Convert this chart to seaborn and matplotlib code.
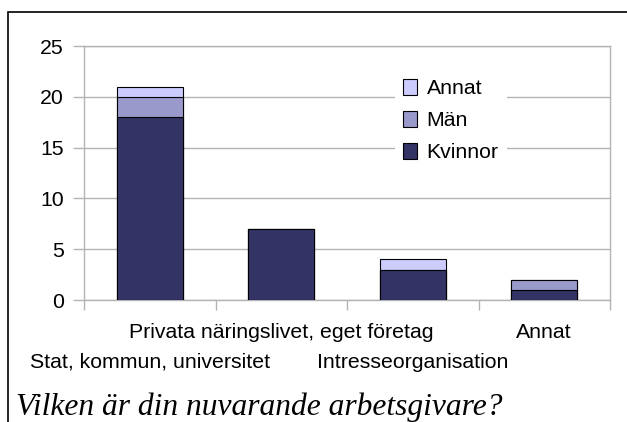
import numpy as np
import pandas as pd
import matplotlib.pyplot as plt
import seaborn as sns
from matplotlib.patches import Patch, Rectangle

# -----------------------------
# data
# -----------------------------
categories = ["Stat, kommun, universitet",
              "Privata näringslivet, eget företag",
              "Intresseorganisation",
              "Annat"]
kvinnor = [18, 7, 3, 1]
man = [2, 0, 0, 1]
annat = [1, 0, 1, 0]
series_names = ["Kvinnor", "Män", "Annat"]
series_colors = ["#333366", "#9999cc", "#ccccff"]
title = "Vilken är din nuvarande arbetsgivare?"

df = pd.DataFrame({"kategori": categories,
                   "Kvinnor": kvinnor, "Män": man, "Annat": annat})
df["c1"] = df["Kvinnor"]
df["c2"] = df["c1"] + df["Män"]
df["c3"] = df["c2"] + df["Annat"]

# -----------------------------
# style
# -----------------------------
sns.set_theme(style="white")
plt.rcParams["font.family"] = ["Liberation Sans", "DejaVu Sans"]
plt.rcParams["text.color"] = "black"
grid_c = "#b3b3b3"
fs = 15.3

fig = plt.figure(figsize=(6.27, 4.22), dpi=100)
ax = fig.add_axes([84 / 627, 1 - 300 / 422, (610 - 84) / 627, (300 - 46) / 422])

# stacked bars: draw cumulative totals, tallest first
for col, color in zip(["c3", "c2", "c1"], series_colors[::-1]):
    sns.barplot(data=df, x="kategori", y=col, color=color, width=0.5,
                edgecolor="black", linewidth=0.8, saturation=1, ax=ax, zorder=3)

ax.set_xlim(-0.5, len(categories) - 0.5)
ax.set_ylim(0, 25)
ax.set_yticks(np.arange(0, 26, 5))
ax.yaxis.grid(True, color=grid_c, linewidth=1, zorder=0)
ax.set_xlabel("")
ax.set_ylabel("")
for s in ax.spines.values():
    s.set_color(grid_c)
    s.set_linewidth(1)

ax.tick_params(axis="y", length=8, color=grid_c, width=1, labelsize=fs,
               labelcolor="black", pad=6.4, left=True)
ax.set_xticks(range(len(categories)))
ax.set_xticklabels(categories)
ax.tick_params(axis="x", which="major", length=0, labelsize=fs,
               labelcolor="black")
ax.set_xticks(np.arange(-0.5, len(categories), 1.0), minor=True)
ax.tick_params(axis="x", which="minor", length=7.5, color=grid_c, width=1,
               bottom=True)
# staggered labels
for i, t in enumerate(ax.xaxis.get_major_ticks()):
    t.set_pad(16.5 if i % 2 == 1 else 38)

handles = [Patch(facecolor=c, edgecolor="black", linewidth=0.8, label=n)
           for n, c in zip(series_names, series_colors)][::-1]
leg = ax.legend(handles=handles, loc="upper left",
                bbox_to_anchor=(300 / 526, 1 - 14 / 254), frameon=True,
                facecolor="white", edgecolor="none", framealpha=1,
                fontsize=fs, handlelength=0.65, handleheight=0.75,
                handletextpad=0.45, labelspacing=0.6, borderpad=0.4,
                fancybox=False)
leg.set_zorder(5)

# outer frame and title
fig.patches.append(Rectangle((8 / 627, -0.1), 1.2, 1.1 - 12 / 422,
                             transform=fig.transFigure, fill=False,
                             edgecolor="black", linewidth=1.2))
fig.text(16 / 627, 1 - 414.5 / 422, title, ha="left", va="baseline",
         fontsize=22.7, style="italic", color="black",
         family=["Liberation Serif", "DejaVu Serif"])

fig.savefig("out.png", dpi=100)
